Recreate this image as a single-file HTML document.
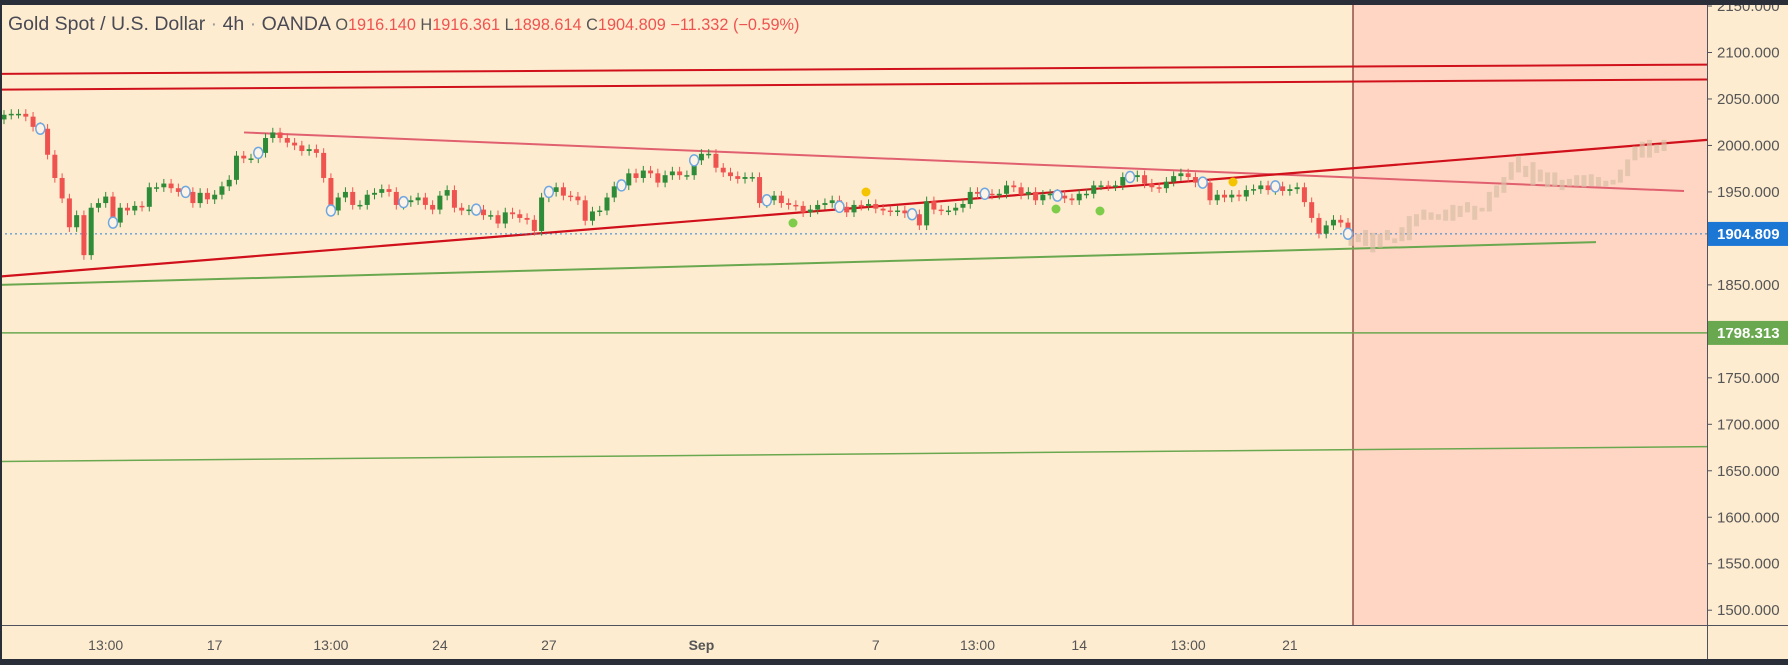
<!DOCTYPE html>
<html><head><meta charset="utf-8">
<style>
html,body{margin:0;padding:0;background:#feecd1;overflow:hidden}
svg{display:block}
text{font-family:"Liberation Sans",sans-serif}
</style></head>
<body>
<svg id="chart" width="1788" height="665" viewBox="0 0 1788 665" xmlns="http://www.w3.org/2000/svg">
<rect x="0" y="0" width="1788" height="665" fill="#feecd1"/>
<rect x="1353" y="5" width="354" height="620" fill="#ffd6c4"/>
<line x1="1353" y1="5" x2="1353" y2="625" stroke="#7a2a2a" stroke-width="1.2"/>
<g id="lines"></g>
<g id="ghost"></g>
<g id="candles"></g>
<g id="marks"></g>
<line x1="1707.5" y1="0" x2="1707.5" y2="665" stroke="#50535e" stroke-width="1"/>
<line x1="0" y1="625.5" x2="1788" y2="625.5" stroke="#50535e" stroke-width="1"/>
<g id="yaxis"></g>
<g id="xaxis"></g>
<rect x="0" y="0" width="1788" height="5" fill="#2a2e39"/>
<rect x="0" y="659" width="1788" height="6" fill="#2a2e39"/>
<rect x="0" y="0" width="2" height="665" fill="#2a2e39"/>
<text x="8" y="30" font-size="19.5" fill="#4a4a55">Gold Spot / U.S. Dollar <tspan fill="#999">·</tspan> 4h <tspan fill="#999">·</tspan> OANDA <tspan font-size="16.3" fill="#555">O</tspan><tspan font-size="16.3" fill="#ef5350">1916.140 </tspan><tspan font-size="16.3" fill="#555">H</tspan><tspan font-size="16.3" fill="#ef5350">1916.361 </tspan><tspan font-size="16.3" fill="#555">L</tspan><tspan font-size="16.3" fill="#ef5350">1898.614 </tspan><tspan font-size="16.3" fill="#555">C</tspan><tspan font-size="16.3" fill="#ef5350">1904.809 −11.332 (−0.59%)</tspan></text>
</svg>
<script>
const closes = [2033,2034,2034,2031,2020,2018,1990,1965,1943,1912,1925,1882,1933,1938,1945,1917,1933,1930,1935,1934,1955,1955,1959,1954,1950,1950,1938,1949,1942,1947,1956,1963,1989,1986,1986,1992,2008,2014,2008,2003,2000,1994,1996,1992,1965,1930,1944,1950,1936,1936,1947,1949,1953,1950,1936,1939,1941,1944,1936,1931,1946,1952,1933,1930,1931,1931,1925,1925,1916,1928,1926,1922,1920,1908,1944,1950,1955,1946,1945,1941,1919,1929,1930,1944,1956,1957,1970,1965,1973,1970,1960,1968,1972,1968,1968,1984,
1991,1991,1976,1971,1967,1964,1966,1966,1938,1941,1946,1938,1936,1935,1928,1931,1936,1938,1941,1934,1928,1936,1935,1937,1932,1930,1929,1930,1927,1926,1914,1940,1931,1930,1930,1933,1937,1950,1948,1948,1947,1948,1957,1955,1947,1950,1941,1947,1948,1946,1943,1941,1948,1948,1957,1957,1956,1957,1966,1966,1968,1959,1955,1954,1961,1967,1970,1966,1960,1960,1941,1947,1944,1947,1945,1952,1953,1957,1952,1956,1951,1953,1955,1939,1922,1905,1914,1920,1917,1905];
const firstOpen = 2028;
const ghostOpen = [1892,1896,1892,1885,1890,1898,1895,1897,1898,1913,1920,1920,1920,1919,1919,1923,1928,1920,1929,1929,1944,1949,1963,1971,1966,1957,1961,1955,1956,1952,1956,1956,1955,1956,1956,1956,1958,1960,1967,1984,1987,1987,1992,1994];
const ghostClose = [1902,1905,1909,1906,1905,1909,1900,1912,1924,1926,1931,1928,1926,1931,1936,1935,1939,1935,1933,1950,1957,1966,1982,1989,1978,1982,1974,1971,1971,1963,1964,1968,1968,1969,1966,1962,1963,1974,1985,1999,2004,2006,2001,2006];
const yTicks = [2150,2100,2050,2000,1950,1850,1750,1700,1650,1600,1550,1500];
const xLabels = ["13:00","17","13:00","24","27","Sep","7","13:00","14","13:00","21"];
const xLabelIdx = [14,29,45,60,75,96,120,134,148,163,177];
const circleIdx = [5,15,25,35,45,55,65,75,85,95,105,115,125,135,145,155,165,175,185];
const trendLines = [
 {n:"resistance-line-upper",p1:[0,2077],p2:[1707,2087],c:"#d0101a",w:2},
 {n:"resistance-line-lower",p1:[0,2060],p2:[1707,2071],c:"#d0101a",w:2},
 {n:"descending-trendline",p1:[244,2014],p2:[1684,1951],c:"#e06070",w:2},
 {n:"ascending-trendline",p1:[0,1859],p2:[1707,2006],c:"#d0101a",w:2.2},
 {n:"support-trendline",p1:[0,1850],p2:[1596,1896],c:"#6aa84f",w:2},
 {n:"support-horizontal",p1:[0,1798.313],p2:[1707,1798.313],c:"#6aa84f",w:1.5},
 {n:"lower-support-line",p1:[0,1660],p2:[1707,1676],c:"#6aa84f",w:1.5}
];
const NS="http://www.w3.org/2000/svg";
function y(p){return 52.5+(2100-p)*0.9295;}
const x0=4, step=(1348-4)/(closes.length-1);
function x(i){return x0+i*step;}
function mk(tag,attrs,parent){const e=document.createElementNS(NS,tag);for(const k in attrs)e.setAttribute(k,attrs[k]);parent.appendChild(e);return e;}
const G=id=>document.getElementById(id);
trendLines.forEach(t=>{
 const e=mk("line",{x1:t.p1[0],y1:y(t.p1[1]),x2:t.p2[0],y2:y(t.p2[1]),stroke:t.c,"stroke-width":t.w},G("lines"));
 
 
});
const dl=mk("line",{x1:0,y1:y(1904.809),x2:1707,y2:y(1904.809),stroke:"#2f7fd0","stroke-width":1,"stroke-dasharray":"2,3"},G("lines"));


ghostOpen.forEach((o,i)=>{
 const c=ghostClose[i];
 const gx=1351+i*7.28;
 const r=mk("rect",{x:gx-2.5,y:y(Math.max(o,c)),width:5,height:Math.max(1,Math.abs(y(o)-y(c))),fill:"#d8bea4","fill-opacity":0.7},G("ghost"));
 
 
});
closes.forEach((c,i)=>{
 const o=i===0?firstOpen:closes[i-1];
 const up=c>=o, col=up?"#2e8b38":"#ef5350";
 const cx=x(i);
 const w=mk("line",{x1:cx,x2:cx,y1:y(Math.max(o,c)+5),y2:y(Math.min(o,c)-5),stroke:col,"stroke-width":1},G("candles"));
 
 
 const b=mk("rect",{x:cx-2.5,y:y(Math.max(o,c)),width:5,height:Math.max(1.5,Math.abs(y(o)-y(c))),fill:col},G("candles"));
 
 
});
circleIdx.forEach(i=>{
 if(i>=closes.length)return;
 const e=mk("ellipse",{cx:x(i),cy:y(closes[i]),rx:4.5,ry:5.5,fill:"#fdf3e6",stroke:"#6fa8e0","stroke-width":1.5},G("marks"));
 
 
});
[[866,192,"#f5c400"],[1233,182,"#f5c400"],[793,223,"#7dcc4a"],[1056,209,"#7dcc4a"],[1100,211,"#7dcc4a"]].forEach(d=>{
 const e=mk("circle",{cx:d[0],cy:d[1],r:4.5,fill:d[2]},G("marks"));
 
 
});
yTicks.forEach(p=>{
 const t=mk("line",{x1:1707,x2:1712,y1:y(p),y2:y(p),stroke:"#50535e"},G("yaxis"));
 
 
 const e=mk("text",{x:1717,y:y(p)+5,"font-size":15,fill:"#555"},G("yaxis"));
 e.textContent=p.toFixed(3);
 
 
});
[[1904.809,"#1c76d4"],[1798.313,"#6aa84f"]].forEach(d=>{
 const r=mk("rect",{x:1708,y:y(d[0])-12,width:80,height:24,fill:d[1]},G("yaxis"));
 
 
 const e=mk("text",{x:1717,y:y(d[0])+5,"font-size":15,"font-weight":"bold",fill:"#fff"},G("yaxis"));
 e.textContent=d[0].toFixed(3);
 
 
});
xLabels.forEach((l,k)=>{
 const e=mk("text",{x:x(xLabelIdx[k]),y:650,"font-size":14,fill:"#555","text-anchor":"middle","font-weight":l==="Sep"?"bold":"normal"},G("xaxis"));
 e.textContent=l;
 
 
});
</script>
</body></html>
